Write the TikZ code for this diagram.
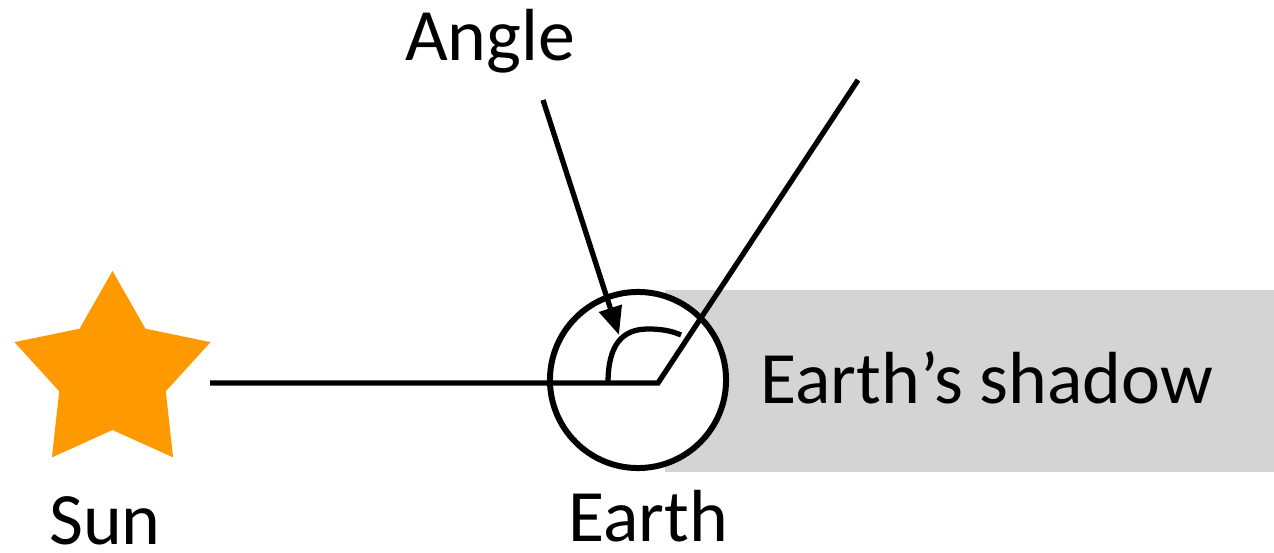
\documentclass[tikz,border=0pt]{standalone}
\usepackage{fontspec}
\setmainfont{Carlito}
\usepackage{tikz}
\usetikzlibrary{arrows.meta,shapes.geometric}
\definecolor{sunorange}{RGB}{255,153,0}
\definecolor{shadowgray}{RGB}{212,212,212}
\begin{document}
\begin{tikzpicture}[x=0.01cm,y=-0.01cm,
  lbl/.style={font=\fontsize{21}{25}\selectfont,inner sep=0pt,anchor=base},
  ln/.style={line width=1.5pt},
  arr/.style={ln,-{Triangle[length=8pt,width=6.5pt]}}]
\useasboundingbox (0,0) rectangle (1274,552);
\fill[shadowgray] (665,290) rectangle (1274,472);
\node[star,star points=5,star point ratio=1.84,minimum size=2.06cm,inner sep=0pt,fill=sunorange] (sun) at (112.5,374) {};
\coordinate (linestart) at (210,383);
\coordinate (vertex) at (658,383);
\coordinate (rayend) at (858,80);
\coordinate (arrstart) at (543,100);
\coordinate (arrtip) at (619,335);
\node[circle,draw,line width=1.7pt,fill=white,minimum size=1.76cm,inner sep=0pt] (earth) at (638,380) {};
\draw[ln] (linestart) -- (vertex) -- (rayend);
\draw[ln] (608,383) .. controls (608,345) and (622,329) .. (648,329) .. controls (662,329) and (672,331) .. (681,335);
\draw[arr] (arrstart) -- (arrtip);
\node[lbl] (anglelbl) at (490,61) {Angle};
\node[lbl] (sunlbl) at (105,544) {Sun};
\node[lbl] (earthlbl) at (648,541) {Earth};
\node[lbl,anchor=base west] (shadowlbl) at (760,403) {Earth’s shadow};
\end{tikzpicture}
\end{document}
